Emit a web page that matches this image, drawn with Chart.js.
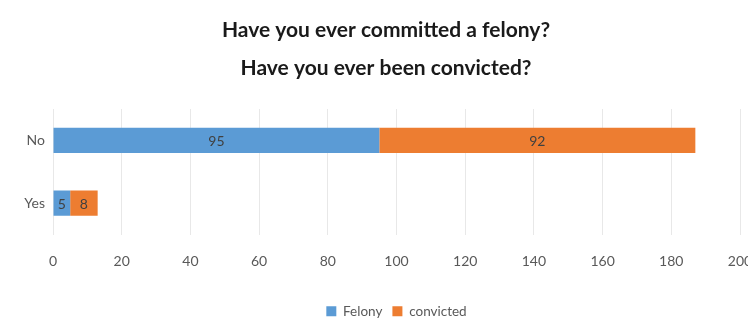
<!DOCTYPE html>
<html>
<head>
<meta charset="utf-8">
<script src="https://cdn.jsdelivr.net/npm/chart.js@4/dist/chart.umd.min.js"></script>
<style>
  html, body { margin: 0; padding: 0; background: #fff; }
  #wrap { width: 748px; height: 320px; }
</style>
</head>
<body>
<div id="wrap"><canvas id="chart" width="748" height="320"></canvas></div>
<script>
const categories = ['No', 'Yes'];
const felony = [95, 5];
const convicted = [92, 8];
const xTicks = [0, 20, 40, 60, 80, 100, 120, 140, 160, 180, 200];

const FONT = 'Lato, "Open Sans", sans-serif';

// write each segment's value in the middle of its bar
const segmentLabels = {
  id: 'segmentLabels',
  afterDatasetsDraw(chart) {
    const ctx = chart.ctx;
    ctx.save();
    ctx.font = '14px ' + FONT;
    ctx.fillStyle = '#404040';
    ctx.textAlign = 'center';
    ctx.textBaseline = 'middle';
    chart.data.datasets.forEach((ds, i) => {
      chart.getDatasetMeta(i).data.forEach((bar, j) => {
        const left = Math.min(bar.x, bar.base);
        const right = Math.max(bar.x, bar.base);
        ctx.fillText(String(ds.data[j]), (left + right) / 2, bar.y + 1);
      });
    });
    ctx.restore();
  }
};

// center legend and title over the plot area, drop the legend a little lower
const centerOnPlot = {
  id: 'centerOnPlot',
  afterLayout(chart) {
    const lg = chart.legend;
    if (lg) {
      lg.left = chart.chartArea.left;
      lg.right = chart.chartArea.right;
      lg.top += 8;
      lg.bottom += 8;
    }
    const tb = chart.titleBlock;
    if (tb) {
      tb.left = 32;
    }
  }
};

new Chart(document.getElementById('chart'), {
  type: 'bar',
  data: {
    labels: categories,
    datasets: [
      { label: 'Felony', data: felony, backgroundColor: '#5B9BD5' },
      { label: 'convicted', data: convicted, backgroundColor: '#ED7D31' }
    ]
  },
  options: {
    indexAxis: 'y',
    responsive: false,
    animation: false,
    layout: { padding: { left: 0, right: 8, top: 0, bottom: 0 } },
    datasets: { bar: { barPercentage: 0.8, categoryPercentage: 0.5 } },
    plugins: {
      title: {
        display: true,
        text: ['Have you ever committed a felony?', 'Have you ever been convicted?'],
        color: '#1a1a1a',
        font: { family: FONT, size: 21, weight: 'bold', lineHeight: 1.81 },
        padding: { top: 11, bottom: 22 }
      },
      legend: {
        position: 'bottom',
        labels: {
          boxWidth: 10,
          boxHeight: 10,
          padding: 10,
          color: '#595959',
          font: { family: FONT, size: 13.5 }
        }
      },
      tooltip: { enabled: false }
    },
    scales: {
      x: {
        stacked: true,
        min: 0,
        max: 200,
        afterBuildTicks: s => { s.ticks = xTicks.map(v => ({ value: v })); },
        afterFit: s => { s.height = 52; s.paddingRight = 0; s.paddingLeft = 0; },
        grid: { color: '#e8e8e8', drawTicks: false },
        border: { display: false },
        ticks: { padding: 19, color: '#595959', font: { family: FONT, size: 14 } }
      },
      y: {
        stacked: true,
        afterFit: s => { s.width = 53; },
        grid: { display: false, drawTicks: false },
        border: { display: false },
        ticks: { padding: 8, color: '#595959', font: { family: FONT, size: 14 } }
      }
    }
  },
  plugins: [segmentLabels, centerOnPlot]
});
</script>
</body>
</html>
